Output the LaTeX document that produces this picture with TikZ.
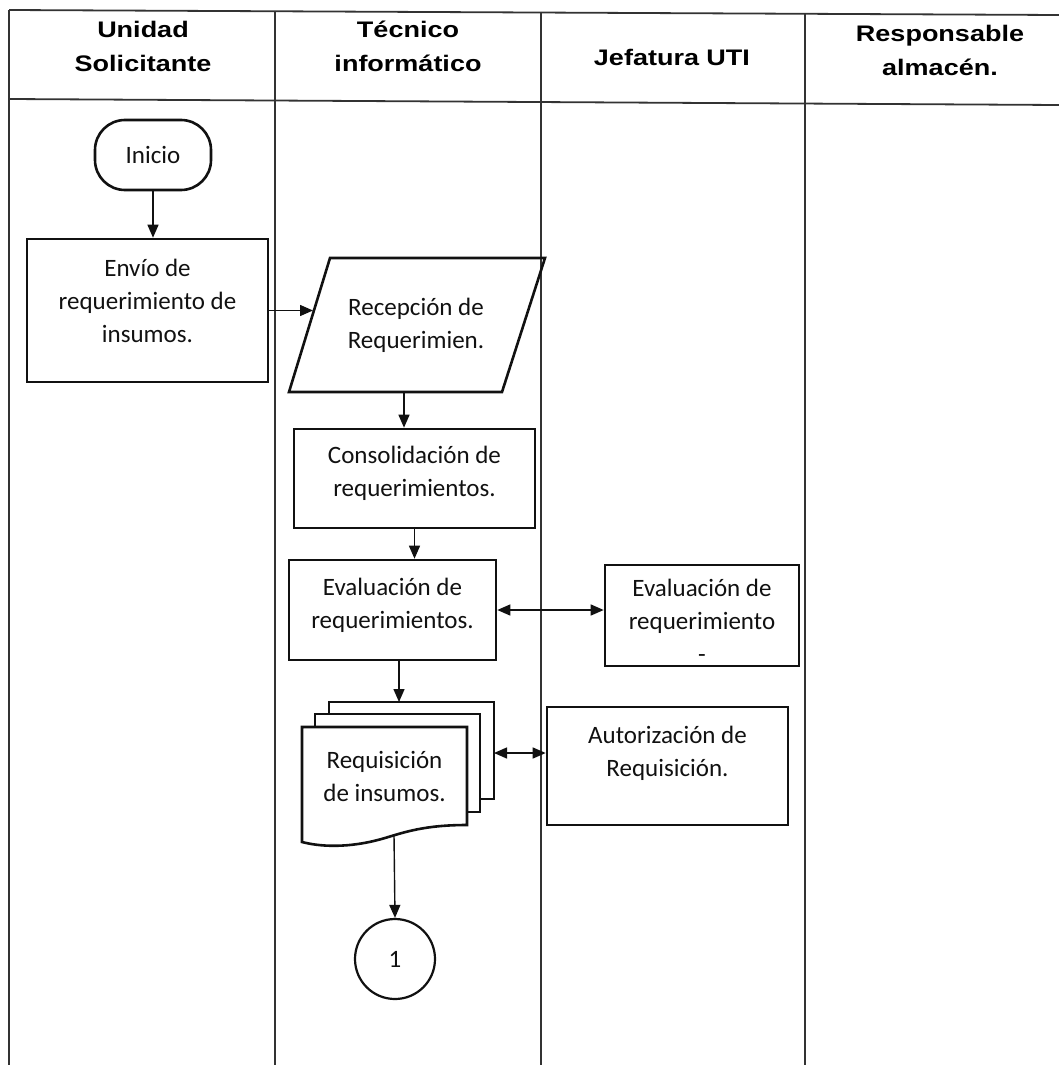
\documentclass[tikz,border=0pt]{standalone}
\usepackage{fontspec}
\setmainfont{Carlito}
\newfontfamily\headfont[FakeStretch=1.2]{Liberation Sans}
\usepackage{tikz}
\usetikzlibrary{arrows.meta,positioning}
\definecolor{inkx}{HTML}{111111}
\definecolor{gridx}{HTML}{333333}
\tikzset{
  ar/.style={-{Triangle[length=13pt,width=11pt]},line width=1.4pt,inkx},
  dar/.style={{Triangle[length=13pt,width=11pt]}-{Triangle[length=13pt,width=11pt]},line width=1.4pt,inkx},
  box/.style={draw=inkx,line width=2.6pt,align=center,inner sep=0pt,text=inkx,font=\fontsize{25}{33}\selectfont},
  txt/.style={align=center,inner sep=0pt,text=inkx,font=\fontsize{25}{33}\selectfont},
  hdr/.style={align=center,inner sep=0pt,font=\headfont\bfseries\fontsize{22.5}{34}\selectfont}
}

\begin{document}
\begin{tikzpicture}[x=1pt,y=-1pt]
\useasboundingbox (0,0) rectangle (1059,1065);
% tabla de carriles
\draw[gridx,line width=1.8pt] (9,10)--(1059,15) (9,99)--(1059,105);
\foreach \cx/\cy in {9/10,275/11.3,541/12.5,805/13.8}
  \draw[gridx,line width=1.8pt] (\cx,\cy)--(\cx,1065);
\node[hdr] (hUnidad) at (143,46) {Unidad\\Solicitante};
\node[hdr] (hTecnico) at (408,46) {Técnico\\informático};
\node[hdr] (hJefatura) at (672,57) {Jefatura UTI};
\node[hdr] (hResp) at (940,50) {Responsable\\almacén.};

% unidad solicitante
\node[box,rounded corners=30pt,minimum width=116pt,minimum height=70pt] (inicio) at (153,155) {Inicio};
\node[box,minimum width=241pt,minimum height=143pt,text depth=20pt] (envio) at (147.5,310.5) {Envío de\\requerimiento de\\insumos.};

% tecnico informatico
\draw[inkx,line width=2.6pt] (330,258)--(545,258)--(502,392)--(289,392)--cycle;
\node[txt] (recep) at (416,325) {Recepción de\\Requerimien.};
\coordinate (recepIn) at (313,310.5);
\coordinate (recepOut) at (404,392);
\node[box,minimum width=241pt,minimum height=99pt,text depth=15pt] (consol) at (414.5,478.5) {Consolidación de\\requerimientos.};
\node[box,minimum width=207pt,minimum height=100pt,text depth=13pt] (evalUT) at (392.5,610) {Evaluación de\\requerimientos.};
% documentos
\draw[inkx,line width=2.6pt,fill=white] (329,702) rectangle (494,799);
\draw[inkx,line width=2.6pt,fill=white] (315,714) rectangle (480,812);
\draw[inkx,line width=2.6pt,fill=white] (302,727)--(467,727)--(467,825)
  .. controls (425,825) and (405,832) .. (385,838)
  .. controls (355,847) and (325,848) .. (302,842)--cycle;
\node[txt] (requis) at (384.5,776) {Requisición\\de insumos.};
\coordinate (docTop) at (399,702);
\coordinate (docRight) at (494,753);
\coordinate (docBot) at (394,835);
\node[draw=inkx,line width=2.2pt,circle,minimum size=80pt,inner sep=0pt,text=inkx,font=\fontsize{25}{30}\selectfont] (conn) at (395,959) {1};

% jefatura UTI
\node[box,minimum width=194pt,minimum height=101pt,text height=94pt] (evalJ) at (702,615.5) {Evaluación de\\requerimiento\\-};
\node[box,minimum width=241pt,minimum height=118pt,text depth=29pt] (autoriz) at (667.5,766) {Autorización de\\Requisición.};

% flechas
\draw[ar] (inicio.south) -- (inicio.south |- envio.north);
\draw[ar] (envio.east) -- (recepIn);
\draw[ar] (recepOut) -- (recepOut |- consol.north);
\draw[ar] (consol.south) -- (consol.south |- evalUT.north);
\draw[dar] (evalUT.east) -- (evalUT.east -| evalJ.west);
\draw[ar] (evalUT.south -| docTop) -- (docTop);
\draw[dar] (docRight) -- (docRight -| autoriz.west);
\draw[ar] (docBot) -- (conn.north);
\end{tikzpicture}
\end{document}
